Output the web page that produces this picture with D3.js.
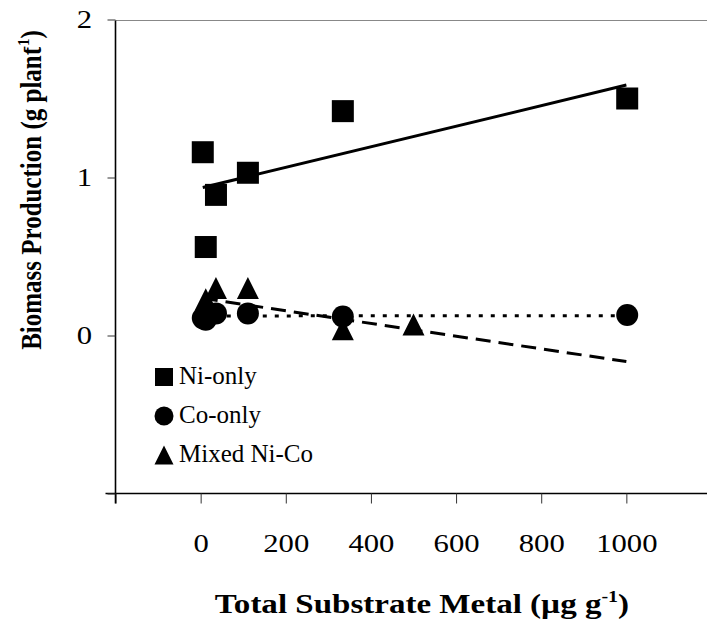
<!DOCTYPE html>
<html>
<head>
<meta charset="utf-8">
<script src="https://cdn.jsdelivr.net/npm/d3@7"></script>
<style>
  body { margin: 0; background: #fff; }
</style>
</head>
<body>
<svg id="chart" width="707" height="622"></svg>
<script>
// values
const niX = [5, 12, 36, 111, 334, 1002];
const niY = [1.16, 0.56, 0.89, 1.03, 1.42, 1.50];
const coX = [5, 12, 36, 111, 334, 1002];
const coY = [0.11, 0.10, 0.14, 0.14, 0.12, 0.13];
const mixX = [12, 36, 111, 334, 500];
const mixY = [0.23, 0.30, 0.30, 0.04, 0.07];

// trendline end points
const niFit = [[5, 0.937], [1000, 1.585]];
const coFit = [[5, 0.124], [1000, 0.125]];
const mixFit = [[5, 0.235], [1000, -0.165]];

const xTicks = [-200, 0, 200, 400, 600, 800, 1000];
const yTicks = [-1, 0, 1, 2];

const serif = '"Liberation Serif", "Times New Roman", Times, serif';
const stretch = 1.18; // the scanned figure is a bit wider than tall

const svg = d3.select('#chart');
const x = d3.scaleLinear().domain([-200, 1200]).range([115.5, 711.5]);
const y = d3.scaleLinear().domain([-1, 2]).range([493.5, 19.5]);

// top frame line
svg.append('line')
    .attr('x1', x(-200)).attr('x2', 707)
    .attr('y1', y(2) + 1).attr('y2', y(2) + 1)
    .attr('stroke', '#888').attr('stroke-width', 1.2);

const xAxis = svg.append('g')
    .attr('transform', `translate(0,${y(-1)})`)
    .call(d3.axisBottom(x).tickValues(xTicks).tickSize(10).tickSizeOuter(0).tickPadding(30)
        .tickFormat(d => d < 0 ? '' : d));
xAxis.select('.domain').attr('d', `M${x(-200) - 10},0H707`).attr('stroke-width', 1.6);
xAxis.selectAll('.tick text').attr('transform', `scale(${stretch},1)`);

const yAxis = svg.append('g')
    .attr('transform', `translate(${x(-200)},0)`)
    .call(d3.axisLeft(y).tickValues(yTicks).tickSize(8).tickSizeOuter(0)
        .tickFormat(d => d < 0 ? '' : d));
yAxis.select('.domain').attr('d', `M0,${y(2) + 1}V${y(-1) + 10}`).attr('stroke-width', 1.6);
yAxis.selectAll('.tick text').attr('x', 0)
    .attr('transform', `translate(-23.5,0) scale(${stretch},1)`);

svg.selectAll('.tick text')
    .attr('font-family', null).attr('font-size', null)
    .style('font-family', serif).style('font-size', '26px').style('fill', '#000');
xAxis.attr('font-family', null).attr('font-size', null);
yAxis.attr('font-family', null).attr('font-size', null);
svg.selectAll('.tick line').attr('stroke', '#333');

// trendlines
const line = d3.line().x(d => x(d[0])).y(d => y(d[1]));
svg.append('path').datum(niFit).attr('d', line)
    .attr('fill', 'none').attr('stroke', '#000').attr('stroke-width', 3);
svg.append('path').datum(coFit).attr('d', line)
    .attr('fill', 'none').attr('stroke', '#000').attr('stroke-width', 3)
    .attr('stroke-dasharray', '4,8');
svg.append('path').datum(mixFit).attr('d', line)
    .attr('fill', 'none').attr('stroke', '#000').attr('stroke-width', 3)
    .attr('stroke-dasharray', '15,8');

const tri = s => `M0,${-s / 2}L${s / 2},${s / 2}L${-s / 2},${s / 2}Z`;

// markers
svg.append('g').selectAll('rect')
    .data(d3.range(niX.length))
    .enter().append('rect')
    .attr('x', i => x(niX[i]) - 11).attr('y', i => y(niY[i]) - 11)
    .attr('width', 22).attr('height', 22)
    .attr('fill', '#000');

svg.append('g').selectAll('circle')
    .data(d3.range(coX.length))
    .enter().append('circle')
    .attr('cx', i => x(coX[i])).attr('cy', i => y(coY[i]))
    .attr('r', 11)
    .attr('fill', '#000');

svg.append('g').selectAll('path')
    .data(d3.range(mixX.length))
    .enter().append('path')
    .attr('d', tri(22))
    .attr('transform', i => `translate(${x(mixX[i])},${y(mixY[i])})`)
    .attr('fill', '#000');

// legend
const legendItems = ['Ni-only', 'Co-only', 'Mixed Ni-Co'];
const legend = svg.append('g').attr('transform', 'translate(164,377)');
legendItems.forEach((name, i) => {
    const g = legend.append('g').attr('transform', `translate(0,${i * 39})`);
    if (i === 0) g.append('rect').attr('x', -9).attr('y', -9).attr('width', 18).attr('height', 18);
    else if (i === 1) g.append('circle').attr('r', 9.5);
    else g.append('path').attr('d', tri(19));
    g.append('text').attr('x', 15).attr('y', 7)
        .style('font-family', serif).style('font-size', '25px').text(name);
});

// axis titles
const xt = svg.append('text')
    .attr('transform', `translate(422,613) scale(${stretch},1)`)
    .attr('text-anchor', 'middle')
    .style('font-family', serif).style('font-size', '28px').style('font-weight', 'bold');
xt.append('tspan').text('Total Substrate Metal (\u00b5g g');
xt.append('tspan').attr('dy', -11).style('font-size', '17px').text('-1');
xt.append('tspan').attr('dy', 11).text(')');

const yt = svg.append('text')
    .attr('transform', `translate(41,190) scale(${stretch},1) rotate(-90)`)
    .attr('text-anchor', 'middle')
    .style('font-family', serif).style('font-size', '25px').style('font-weight', 'bold');
yt.append('tspan').text('Biomass Production (g plant');
yt.append('tspan').attr('dy', -10).attr('dx', -4).style('font-size', '15px').text('-1');
yt.append('tspan').attr('dy', 10).text(')');
</script>
</body>
</html>
